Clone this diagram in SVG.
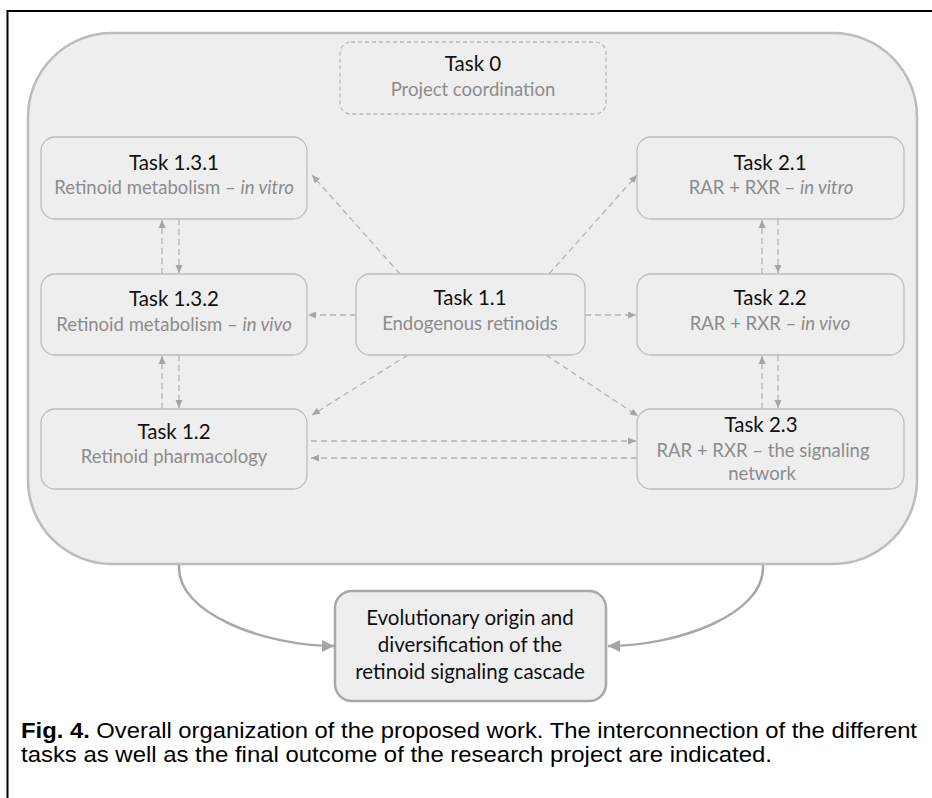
<svg xmlns="http://www.w3.org/2000/svg" width="932" height="798" viewBox="0 0 932 798">
<defs>
<style>
.title{font-family:Lato,"Open Sans","Liberation Sans",sans-serif;font-size:20.5px;fill:#111;text-anchor:middle}
.sub{font-family:Lato,"Open Sans","Liberation Sans",sans-serif;font-size:18.5px;fill:#8c8c8c;text-anchor:middle}
.out{font-family:Lato,"Open Sans","Liberation Sans",sans-serif;font-size:20.5px;fill:#111;text-anchor:middle}
.box{fill:#eeeeee;stroke:#bdbdbd;stroke-width:1.3}
.dash{fill:none;stroke:#b3b3b3;stroke-width:1.3;stroke-dasharray:6 4;marker-end:url(#ah)}
.curve{fill:none;stroke:#a8a8a8;stroke-width:2.5;marker-end:url(#big)}
.cap{font-family:"Liberation Sans",Arial,sans-serif;font-size:22px;fill:#000}
</style>
<marker id="ah" markerUnits="userSpaceOnUse" markerWidth="9" markerHeight="8" refX="8" refY="4" orient="auto">
<path d="M0,0.5 L8,4 L0,7.5 z" fill="#a5a5a5"/>
</marker>
<marker id="big" markerUnits="userSpaceOnUse" markerWidth="14" markerHeight="14" refX="12" refY="6" orient="auto">
<path d="M0,0 L12,6 L0,12 z" fill="#a5a5a5"/>
</marker>
</defs>
<rect x="0" y="0" width="932" height="798" fill="#ffffff"/>
<rect x="7.5" y="11" width="940" height="800" fill="none" stroke="#000" stroke-width="2"/>

<g id="container">
<rect x="28" y="33" width="889" height="531" rx="84" ry="84" fill="#eeeeee" stroke="#bcbcbc" stroke-width="2.5"/>
</g>

<g id="connectors">
<path class="curve" d="M179,565 C176,615 268,646 334,646"/>
<path class="curve" d="M763,565 C766,615 676,646 608,646"/>
<line class="dash" x1="400" y1="274" x2="312" y2="175"/>
<line class="dash" x1="549" y1="274" x2="637" y2="175"/>
<line class="dash" x1="356" y1="315" x2="308" y2="315"/>
<line class="dash" x1="585" y1="315" x2="636" y2="315"/>
<line class="dash" x1="408" y1="355" x2="312" y2="415"/>
<line class="dash" x1="546" y1="355" x2="638" y2="416"/>
<line class="dash" x1="311" y1="441" x2="636" y2="441"/>
<line class="dash" x1="637" y1="458" x2="311" y2="458"/>
<line class="dash" x1="162" y1="274" x2="162" y2="220"/>
<line class="dash" x1="179" y1="219" x2="179" y2="273"/>
<line class="dash" x1="162" y1="409" x2="162" y2="356"/>
<line class="dash" x1="179" y1="355" x2="179" y2="408"/>
<line class="dash" x1="762" y1="274" x2="762" y2="220"/>
<line class="dash" x1="778" y1="219" x2="778" y2="273"/>
<line class="dash" x1="762" y1="409" x2="762" y2="356"/>
<line class="dash" x1="778" y1="355" x2="778" y2="408"/>
</g>

<g id="task0">
<rect x="340" y="42" width="266" height="72" rx="11" fill="none" stroke="#b8b8b8" stroke-width="1.3" stroke-dasharray="4 3"/>
<text class="title" x="473" y="71">Task 0</text>
<text class="sub" x="473" y="96">Project coordination</text>
</g>

<g id="task131">
<rect class="box" x="41" y="137" width="266" height="82" rx="14"/>
<text class="title" x="174" y="170">Task 1.3.1</text>
<text class="sub" x="174" y="194">Retinoid metabolism – <tspan font-style="italic">in vitro</tspan></text>
</g>

<g id="task21">
<rect class="box" x="637" y="137" width="267" height="82" rx="14"/>
<text class="title" x="770" y="170">Task 2.1</text>
<text class="sub" x="771" y="194">RAR + RXR – <tspan font-style="italic">in vitro</tspan></text>
</g>

<g id="task132">
<rect class="box" x="41" y="274" width="266" height="81" rx="14"/>
<text class="title" x="174" y="306">Task 1.3.2</text>
<text class="sub" x="174" y="331">Retinoid metabolism – <tspan font-style="italic">in vivo</tspan></text>
</g>

<g id="task11">
<rect class="box" x="356" y="274" width="229" height="81" rx="14"/>
<text class="title" x="470" y="305">Task 1.1</text>
<text class="sub" x="470" y="330">Endogenous retinoids</text>
</g>

<g id="task22">
<rect class="box" x="637" y="274" width="267" height="81" rx="14"/>
<text class="title" x="770" y="305">Task 2.2</text>
<text class="sub" x="770" y="330">RAR + RXR – <tspan font-style="italic">in vivo</tspan></text>
</g>

<g id="task12">
<rect class="box" x="41" y="409" width="266" height="80" rx="14"/>
<text class="title" x="174" y="439">Task 1.2</text>
<text class="sub" x="174" y="463">Retinoid pharmacology</text>
</g>

<g id="task23">
<rect class="box" x="637" y="409" width="267" height="80" rx="14"/>
<text class="title" x="761" y="432">Task 2.3</text>
<text class="sub" x="763" y="457">RAR + RXR – the signaling</text>
<text class="sub" x="762" y="480">network</text>
</g>

<g id="outcome">
<rect x="335" y="591" width="271" height="110" rx="17" fill="#eeeeee" stroke="#a8a8a8" stroke-width="2.5"/>
<text class="out" x="470" y="625">Evolutionary origin and</text>
<text class="out" x="470" y="652">diversification of the</text>
<text class="out" x="470" y="679">retinoid signaling cascade</text>
</g>

<g id="caption">
<text class="cap" x="21" y="738" textLength="896" lengthAdjust="spacingAndGlyphs"><tspan font-weight="bold">Fig. 4.</tspan> Overall organization of the proposed work. The interconnection of the different</text>
<text class="cap" x="21" y="762" textLength="751" lengthAdjust="spacingAndGlyphs">tasks as well as the final outcome of the research project are indicated.</text>
</g>
</svg>
